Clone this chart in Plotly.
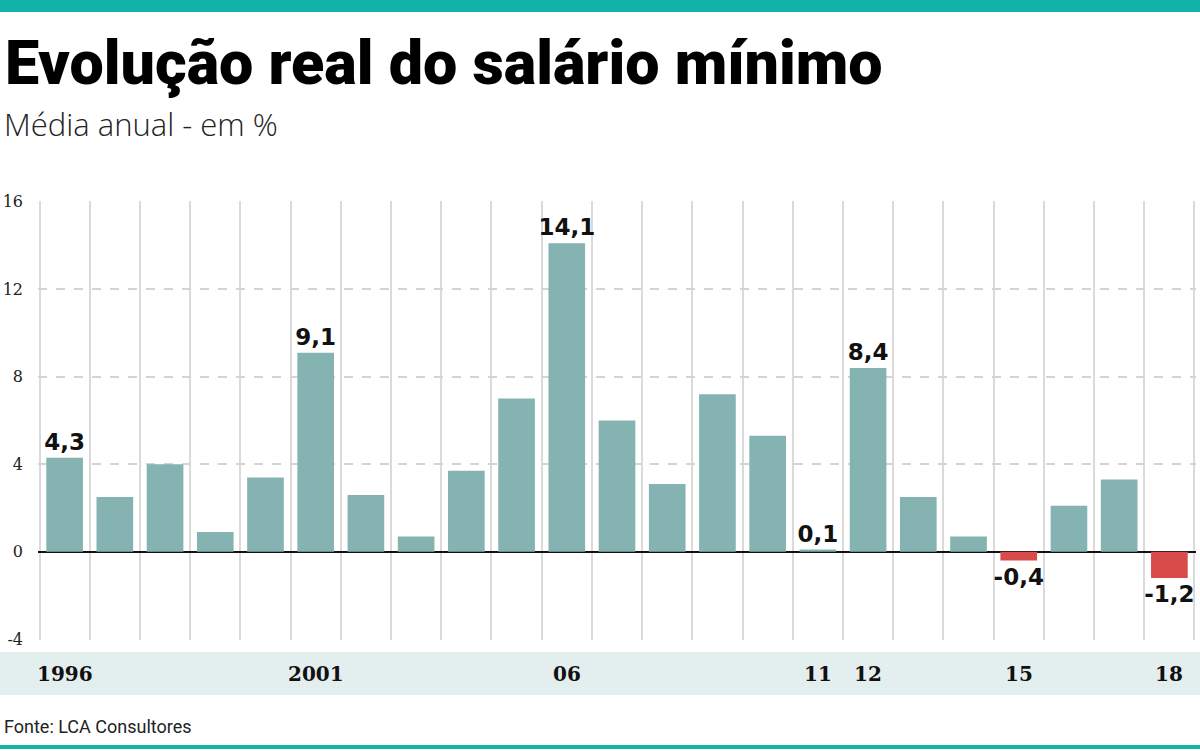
import plotly.graph_objects as go

years = list(range(1996, 2019))
values = [4.3, 2.5, 4.0, 0.9, 3.4, 9.1, 2.6, 0.7, 3.7, 7.0, 14.1, 6.0, 3.1, 7.2, 5.3,
          0.1, 8.4, 2.5, 0.7, -0.4, 2.1, 3.3, -1.2]
labeled_years = [1996, 2001, 2006, 2011, 2012, 2015, 2018]
year_labels = ["1996", "2001", "06", "11", "12", "15", "18"]
y_ticks = [-4, 0, 4, 8, 12, 16]
y_tick_text = ["-4", "0", "4", "8", "12", "16"]

title = "Evolução real do salário mínimo"
subtitle = "Média anual - em %"
source = "Fonte: LCA Consultores"

POS = "#85b3b2"
NEG = "#d94a4b"
TEAL = "#10b2aa"

W, H = 1200, 751
L, R, T, B = 38, 4, 201, 111
pw, ph = W - L - R, H - T - B


def px_x(p):
    return (p - L) / pw


def px_y(p):
    return (H - B - p) / ph


colors = [POS if v >= 0 else NEG for v in values]
texts = [(f"{v:.1f}".replace(".", ",") if y in labeled_years else "") for y, v in zip(years, values)]

fig = go.Figure()
fig.add_bar(
    x=years, y=values, marker=dict(color=colors, line=dict(width=0)),
    text=texts, textposition="outside", cliponaxis=False, constraintext="none",
    textfont=dict(family="DejaVu Sans", size=23, color="#111", weight="bold"),
    width=0.73, hoverinfo="skip",
)

fig.update_layout(
    width=W, height=H, margin=dict(l=L, r=R, t=T, b=B),
    paper_bgcolor="white", plot_bgcolor="white", showlegend=False,
    xaxis=dict(range=[1995.47, 2018.53], tick0=1995.5, dtick=1, showticklabels=False,
               showgrid=True, gridcolor="#dadada", gridwidth=2, zeroline=False, showline=False),
    yaxis=dict(range=[-4.03, 16.03], tickvals=y_ticks, ticktext=y_tick_text, showgrid=True,
               gridcolor="#d4d4d4", gridwidth=1.5, griddash="dash", zeroline=True,
               zerolinecolor="#111", zerolinewidth=2, ticks="", ticklabelstandoff=14,
               tickfont=dict(family="DejaVu Serif", size=16, color="#222")),
)

shapes = [
    dict(type="rect", xref="paper", yref="paper", x0=px_x(0), x1=px_x(1200),
         y0=px_y(12), y1=px_y(0), fillcolor=TEAL, line=dict(width=0), layer="below"),
    dict(type="rect", xref="paper", yref="paper", x0=px_x(0), x1=px_x(1200),
         y0=px_y(695), y1=px_y(652), fillcolor="#e3eeee", line=dict(width=0), layer="below"),
    dict(type="rect", xref="paper", yref="paper", x0=px_x(0), x1=px_x(1200),
         y0=px_y(749), y1=px_y(745), fillcolor=TEAL, line=dict(width=0), layer="below"),
]
fig.update_layout(shapes=shapes)

ann = [
    dict(text=title, xref="paper", yref="paper", x=px_x(3), y=px_y(63), xanchor="left",
         yanchor="middle", showarrow=False,
         font=dict(family="Roboto", size=61, color="#000", weight=900)),
    dict(text=subtitle, xref="paper", yref="paper", x=px_x(2), y=px_y(124), xanchor="left",
         yanchor="middle", showarrow=False,
         font=dict(family="Open Sans", size=31, color="#222", weight=300)),
    dict(text=source, xref="paper", yref="paper", x=px_x(2), y=px_y(726), xanchor="left",
         yanchor="middle", showarrow=False,
         font=dict(family="Roboto", size=18, color="#222")),
]
for yr, lab in zip(labeled_years, year_labels):
    ann.append(dict(text=lab, x=yr, xref="x", yref="paper", y=px_y(674), xanchor="center",
                    yanchor="middle", showarrow=False,
                    font=dict(family="DejaVu Serif", size=20, color="#111", weight="bold")))
fig.update_layout(annotations=ann)

fig.write_html("out.html")
